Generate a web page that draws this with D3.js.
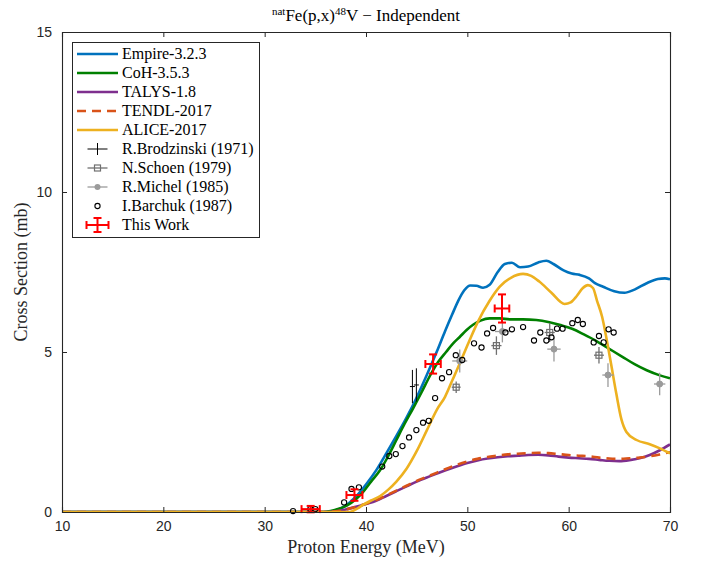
<!DOCTYPE html>
<html>
<head>
<meta charset="utf-8">
<script src="https://cdn.jsdelivr.net/npm/d3@7"></script>
<style>
  body { margin: 0; background: #fff; }
</style>
</head>
<body>
<svg id="chart"></svg>
<script>
let width = 705
let height = 565
let margin = {left: 62, right: 35, top: 32, bottom: 53}

let serif = "'Liberation Serif', 'Times New Roman', serif"
let sans = "'Liberation Sans', Arial, sans-serif"

let xTicks = [10, 20, 30, 40, 50, 60, 70]
let yTicks = [0, 5, 10, 15]

// model curves: [energy MeV, cross section mb]
let empire = [[10,0],[35.8,0],[36.5,0.02],[37,0.05],[38,0.2],[39,0.48],[40,0.86],[41,1.3],[42,1.83],[43,2.38],[44,2.95],[45,3.58],[46,4.28],[47,5.02],[47.8,5.65],[48.5,6.17],[49.1,6.6],[49.7,6.93],[50.3,7.08],[50.9,7.07],[51.55,7.01],[52.2,7.1],[53,7.5],[53.7,7.75],[54.4,7.79],[55.2,7.65],[56,7.67],[57,7.8],[57.8,7.85],[58.5,7.75],[59.5,7.55],[60.3,7.45],[61.1,7.41],[62,7.3],[62.6,7.15],[63.4,7.04],[64.5,6.9],[65.5,6.85],[66.5,6.95],[67.7,7.15],[68.8,7.28],[69.5,7.3],[70,7.27]]
let coh = [[10,0],[35.8,0],[36.5,0.03],[37,0.07],[38.1,0.2],[39,0.4],[39.7,0.62],[40.5,0.95],[41.4,1.31],[42.2,1.75],[43,2.25],[43.8,2.75],[44.65,3.24],[45.5,3.75],[46.3,4.25],[47.1,4.68],[47.9,5.0],[48.6,5.27],[49.25,5.47],[49.9,5.68],[50.6,5.86],[51.3,5.98],[52.2,6.05],[53.2,6.05],[54.2,6.02],[55.5,6.02],[56.8,6.0],[58.1,5.93],[59.2,5.84],[60.4,5.72],[61.5,5.55],[62.7,5.35],[64,5.1],[65.3,4.85],[66.5,4.62],[67.7,4.43],[69,4.27],[70,4.18]]
let talys = [[10,0],[36.3,0],[37,0.02],[38,0.08],[39,0.16],[40,0.25],[41,0.35],[42,0.5],[43,0.65],[44,0.8],[45,0.95],[46,1.08],[47,1.2],[48,1.32],[49,1.43],[50,1.53],[51,1.61],[52,1.67],[53,1.71],[54,1.74],[55,1.76],[56,1.78],[57,1.79],[58,1.77],[59,1.73],[60,1.7],[61,1.68],[62,1.66],[63,1.63],[64,1.6],[65,1.59],[66,1.62],[67,1.68],[68,1.78],[69,1.93],[70,2.11]]
let tendl = [[10,0],[36.3,0],[37,0.02],[38,0.08],[39,0.16],[40,0.26],[41,0.37],[42,0.52],[43,0.67],[44,0.82],[45,0.97],[46,1.1],[47,1.23],[48,1.36],[49,1.48],[50,1.58],[51,1.66],[52,1.72],[53,1.76],[54,1.8],[55,1.82],[56,1.84],[57,1.85],[58,1.84],[59,1.81],[60,1.78],[61,1.76],[62,1.74],[63,1.7],[64,1.67],[65,1.66],[66,1.68],[67,1.7],[68,1.74],[69,1.8],[70,1.87]]
let alice = [[10,0],[38.4,0],[39,0.08],[39.7,0.22],[40.5,0.36],[41.4,0.5],[42.2,0.7],[43,0.95],[44,1.35],[45,1.9],[46,2.55],[47,3.2],[47.8,3.6],[48.5,4.1],[49.4,4.75],[50.2,5.35],[51.05,5.95],[52.2,6.6],[53.2,7.04],[54.3,7.32],[55.5,7.44],[56.3,7.38],[57.1,7.2],[58.3,6.85],[59.6,6.5],[60.2,6.55],[60.8,6.75],[61.4,7.0],[61.9,7.09],[62.4,7.0],[62.8,6.6],[63.3,6.1],[63.7,5.48],[64.2,4.6],[64.7,3.7],[65.2,2.9],[65.7,2.5],[66.7,2.25],[68,2.12],[69,1.99],[70,1.83]]

// experimental data: [E, xs, dE, dxs]
let brodzinski = [[44.58,3.92,0,0.52],[44.97,3.97,0,0.52]]
let schoen = [[48.9,3.9,0.44,0.18],[52.87,5.2,0.5,0.29],[58.13,5.61,0.5,0.3],[62.99,4.9,0.49,0.26]]
let michel = [[49.25,4.72,0.74,0.36],[53.46,5.64,0.74,0.34],[58.55,5.09,0.66,0.39],[63.88,4.28,0.56,0.37],[68.98,4.0,0.56,0.35]]
let barchuk = [[32.8,0.03],[34.5,0.09],[35.0,0.09],[37.84,0.3],[38.57,0.72],[39.3,0.77],[41.6,1.42],[42.3,1.75],[42.94,1.81],[43.6,2.06],[44.25,2.33],[44.97,2.56],[45.63,2.79],[46.19,2.85],[46.82,3.56],[47.5,4.18],[48.2,4.37],[48.86,4.9],[49.5,4.75],[50.66,5.27],[51.4,5.14],[51.95,5.58],[52.54,5.75],[53.76,5.61],[54.4,5.71],[55.5,5.78],[56.58,5.36],[57.2,5.61],[57.8,5.36],[58.3,5.46],[58.85,5.73],[59.4,5.73],[60.36,5.9],[60.9,6.0],[61.4,5.875],[62.47,5.3],[62.99,5.5],[63.45,5.3],[63.94,5.71],[64.44,5.61]]
let thisWork = [[34.54,0.09,0.9,0.1],[38.86,0.53,0.79,0.18],[46.62,4.625,0.76,0.3],[53.42,6.36,0.72,0.44]]

let models = [
  {name: 'Empire-3.2.3', data: empire, color: '#0072BD', dash: null},
  {name: 'CoH-3.5.3', data: coh, color: '#008000', dash: null},
  {name: 'TALYS-1.8', data: talys, color: '#7E2F8E', dash: null},
  {name: 'TENDL-2017', data: tendl, color: '#D95319', dash: '9,6'},
  {name: 'ALICE-2017', data: alice, color: '#EDB120', dash: null}
]

let svg = d3.select('#chart').attr('width', width).attr('height', height)

let x = d3.scaleLinear().domain([10, 70]).range([margin.left, width - margin.right])
let y = d3.scaleLinear().domain([0, 15]).range([height - margin.bottom, margin.top])

let plot = svg.append('g')

// clip so curves stay inside the box
svg.append('clipPath').attr('id', 'clip').append('rect')
  .attr('x', margin.left).attr('y', margin.top)
  .attr('width', width - margin.left - margin.right)
  .attr('height', height - margin.top - margin.bottom)

let line = d3.line().x(d => x(d[0])).y(d => y(d[1])).curve(d3.curveMonotoneX)

let curves = plot.append('g').attr('clip-path', 'url(#clip)')
models.forEach(m => {
  curves.append('path').datum(m.data)
    .attr('d', line)
    .attr('fill', 'none')
    .attr('stroke', m.color)
    .attr('stroke-width', 2.6)
    .attr('stroke-dasharray', m.dash)
})

// error bars
let drawErr = (g, d, color, sw, cap) => {
  let cx = x(d[0]), cy = y(d[1])
  if (d[3] > 0) {
    let y0 = y(d[1] - d[3]), y1 = y(d[1] + d[3])
    g.append('line').attr('x1', cx).attr('x2', cx).attr('y1', y0).attr('y2', y1)
      .attr('stroke', color).attr('stroke-width', sw)
    if (cap) {
      g.append('line').attr('x1', cx - cap).attr('x2', cx + cap).attr('y1', y0).attr('y2', y0).attr('stroke', color).attr('stroke-width', sw)
      g.append('line').attr('x1', cx - cap).attr('x2', cx + cap).attr('y1', y1).attr('y2', y1).attr('stroke', color).attr('stroke-width', sw)
    }
  }
  if (d[2] > 0) {
    let x0 = x(d[0] - d[2]), x1 = x(d[0] + d[2])
    g.append('line').attr('x1', x0).attr('x2', x1).attr('y1', cy).attr('y2', cy)
      .attr('stroke', color).attr('stroke-width', sw)
    if (cap) {
      g.append('line').attr('x1', x0).attr('x2', x0).attr('y1', cy - cap).attr('y2', cy + cap).attr('stroke', color).attr('stroke-width', sw)
      g.append('line').attr('x1', x1).attr('x2', x1).attr('y1', cy - cap).attr('y2', cy + cap).attr('stroke', color).attr('stroke-width', sw)
    }
  }
}

let pts = plot.append('g')

brodzinski.forEach(d => {
  drawErr(pts, d, '#000', 1, 0)
  pts.append('line').attr('x1', x(d[0]) - 2.5).attr('x2', x(d[0]) + 2.5)
    .attr('y1', y(d[1])).attr('y2', y(d[1])).attr('stroke', '#000').attr('stroke-width', 1)
})

schoen.forEach(d => {
  drawErr(pts, d, '#707070', 1.3, 0)
  pts.append('rect').attr('x', x(d[0]) - 3).attr('y', y(d[1]) - 3).attr('width', 6).attr('height', 6)
    .attr('fill', 'none').attr('stroke', '#707070').attr('stroke-width', 1.2)
})

michel.forEach(d => {
  drawErr(pts, d, '#9b9b9b', 1.3, 0)
  pts.append('circle').attr('cx', x(d[0])).attr('cy', y(d[1])).attr('r', 3)
    .attr('fill', '#9b9b9b').attr('stroke', '#9b9b9b')
})

pts.selectAll('circle.barchuk').data(barchuk).enter().append('circle')
  .attr('class', 'barchuk')
  .attr('cx', d => x(d[0])).attr('cy', d => y(d[1])).attr('r', 2.6)
  .attr('fill', 'none').attr('stroke', '#000').attr('stroke-width', 1.1)

thisWork.forEach(d => drawErr(pts, d, '#ff0000', 2, 4))

// axes with inward ticks on all four sides
let axisColor = '#262626'
let axBottom = svg.append('g').attr('transform', `translate(0,${y(0)})`)
  .call(d3.axisBottom(x).tickValues(xTicks).tickSize(-5).tickPadding(9))
let axTop = svg.append('g').attr('transform', `translate(0,${y(15)})`)
  .call(d3.axisTop(x).tickValues(xTicks).tickSize(-5).tickFormat(''))
let axLeft = svg.append('g').attr('transform', `translate(${x(10)},0)`)
  .call(d3.axisLeft(y).tickValues(yTicks).tickSize(-5).tickPadding(10))
let axRight = svg.append('g').attr('transform', `translate(${x(70)},0)`)
  .call(d3.axisRight(y).tickValues(yTicks).tickSize(-5).tickFormat(''))

;[axBottom, axTop, axLeft, axRight].forEach(a => {
  a.selectAll('.domain').attr('stroke', axisColor).attr('stroke-width', 1.1)
  a.selectAll('.tick line').attr('stroke', axisColor)
  a.selectAll('text').attr('fill', axisColor).style('font-family', sans).style('font-size', '14px')
})

// title and axis labels
let title = svg.append('text').attr('x', (x(10) + x(70)) / 2).attr('y', 21)
  .attr('text-anchor', 'middle').style('font-family', serif).style('font-size', '17px').attr('fill', '#000')
title.append('tspan').text('nat').attr('dy', -6).style('font-size', '11px')
title.append('tspan').text('Fe(p,x)').attr('dy', 6)
title.append('tspan').text('48').attr('dy', -6).style('font-size', '11px')
title.append('tspan').text('V \u2212 Independent').attr('dy', 6)

svg.append('text').attr('x', (x(10) + x(70)) / 2).attr('y', 553)
  .attr('text-anchor', 'middle').style('font-family', serif).style('font-size', '18px')
  .attr('fill', axisColor).text('Proton Energy (MeV)')

svg.append('text').attr('transform', `translate(27,${(y(0) + y(15)) / 2}) rotate(-90)`)
  .attr('text-anchor', 'middle').style('font-family', serif).style('font-size', '18px')
  .attr('fill', axisColor).text('Cross Section (mb)')

// legend
let legend = svg.append('g')
legend.append('rect').attr('x', 72.5).attr('y', 42.5).attr('width', 187).attr('height', 195)
  .attr('fill', '#fff').attr('stroke', axisColor).attr('stroke-width', 1)

let rowY = i => 54 + i * 19
let sampleX0 = 77, sampleX1 = 118, textX = 122, midX = 97.5

models.forEach((m, i) => {
  legend.append('line').attr('x1', sampleX0).attr('x2', sampleX1).attr('y1', rowY(i)).attr('y2', rowY(i))
    .attr('stroke', m.color).attr('stroke-width', 2.6).attr('stroke-dasharray', m.dash)
})

let expNames = ['R.Brodzinski (1971)', 'N.Schoen (1979)', 'R.Michel (1985)', 'I.Barchuk (1987)', 'This Work']
let allNames = models.map(m => m.name).concat(expNames)

// experiment legend markers
let r5 = rowY(5)
legend.append('line').attr('x1', midX - 10).attr('x2', midX + 10).attr('y1', r5).attr('y2', r5).attr('stroke', '#000')
legend.append('line').attr('x1', midX).attr('x2', midX).attr('y1', r5 - 6).attr('y2', r5 + 6).attr('stroke', '#000')
let r6 = rowY(6)
legend.append('line').attr('x1', midX - 10).attr('x2', midX + 10).attr('y1', r6).attr('y2', r6).attr('stroke', '#707070').attr('stroke-width', 1.3)
legend.append('rect').attr('x', midX - 3).attr('y', r6 - 3).attr('width', 6).attr('height', 6).attr('fill', 'none').attr('stroke', '#707070').attr('stroke-width', 1.2)
let r7 = rowY(7)
legend.append('line').attr('x1', midX - 10).attr('x2', midX + 10).attr('y1', r7).attr('y2', r7).attr('stroke', '#9b9b9b').attr('stroke-width', 1.3)
legend.append('circle').attr('cx', midX).attr('cy', r7).attr('r', 3).attr('fill', '#9b9b9b')
legend.append('circle').attr('cx', midX).attr('cy', rowY(8)).attr('r', 2.6).attr('fill', 'none').attr('stroke', '#000').attr('stroke-width', 1.1)
let r9 = rowY(9)
legend.append('line').attr('x1', midX - 11).attr('x2', midX + 11).attr('y1', r9).attr('y2', r9).attr('stroke', '#ff0000').attr('stroke-width', 2)
legend.append('line').attr('x1', midX - 11).attr('x2', midX - 11).attr('y1', r9 - 4).attr('y2', r9 + 4).attr('stroke', '#ff0000').attr('stroke-width', 2)
legend.append('line').attr('x1', midX + 11).attr('x2', midX + 11).attr('y1', r9 - 4).attr('y2', r9 + 4).attr('stroke', '#ff0000').attr('stroke-width', 2)
legend.append('line').attr('x1', midX).attr('x2', midX).attr('y1', r9 - 7).attr('y2', r9 + 7).attr('stroke', '#ff0000').attr('stroke-width', 2)
legend.append('line').attr('x1', midX - 4).attr('x2', midX + 4).attr('y1', r9 - 7).attr('y2', r9 - 7).attr('stroke', '#ff0000').attr('stroke-width', 2)
legend.append('line').attr('x1', midX - 4).attr('x2', midX + 4).attr('y1', r9 + 7).attr('y2', r9 + 7).attr('stroke', '#ff0000').attr('stroke-width', 2)

legend.selectAll('text.lab').data(allNames).enter().append('text')
  .attr('class', 'lab')
  .attr('x', textX).attr('y', (d, i) => rowY(i) + 5)
  .style('font-family', serif).style('font-size', '16px').attr('fill', '#000')
  .text(d => d)
</script>
</body>
</html>
